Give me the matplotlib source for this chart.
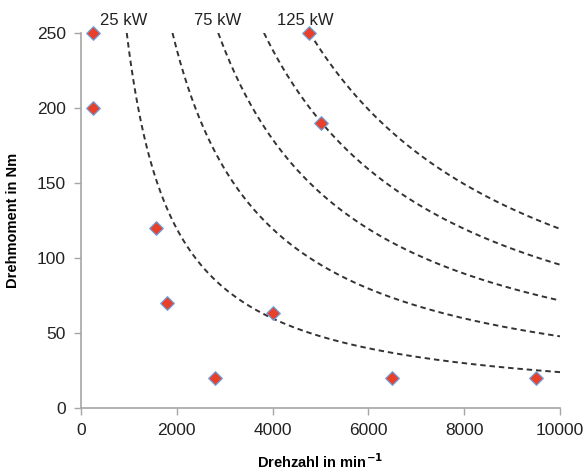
import numpy as np
import matplotlib
matplotlib.use("Agg")
import matplotlib.pyplot as plt

# measured operating points
drehzahl = [250, 250, 1570, 1800, 2800, 4000, 4750, 5000, 6500, 9500]
drehmoment = [250, 200, 120, 70, 20, 63, 250, 190, 20, 20]

# constant power curves (kW)
leistungen = [25, 50, 75, 100, 125]
beschriftet = {25: "25 kW", 75: "75 kW", 125: "125 kW"}
label_x = {25: 900, 75: 2860, 125: 4680}

plt.rcParams['font.family'] = ['Liberation Sans', 'DejaVu Sans']

fig = plt.figure(figsize=(5.87, 4.70), dpi=100)
ax = fig.add_axes([0.138, 0.132, 0.816, 0.798])

t_max = 250
for p in leistungen:
    n_start = p * 60000 / (2 * np.pi) / t_max
    n = np.linspace(n_start, 10000, 200)
    t = p * 60000 / (2 * np.pi) / n
    ax.plot(n, t, linestyle=(0, (2.8, 2.0)), color='#333333', linewidth=1.4, zorder=2)
    if p in beschriftet:
        ax.text(label_x[p], 253, beschriftet[p], ha='center', va='bottom',
                fontsize=12, color='#222222', clip_on=False)

ax.scatter(drehzahl, drehmoment, marker='D', s=48, color='#E8402A',
           edgecolor='#6F9FD8', linewidth=0.9, zorder=3, clip_on=False)

ax.set_xlim(0, 10000)
ax.set_ylim(0, 250)
ax.set_xticks(range(0, 10001, 2000))
ax.set_yticks(range(0, 251, 50))

for side in ['top', 'right']:
    ax.spines[side].set_visible(False)
for side in ['left', 'bottom']:
    ax.spines[side].set_color('#A6A6A6')
    ax.spines[side].set_linewidth(1.2)
ax.tick_params(axis='both', direction='out', length=5, width=1.0,
               color='#A6A6A6', labelsize=12.5, labelcolor='#222222', pad=6)

ax.set_xlabel('Drehzahl in min$^{\\mathbf{-1}}$', fontsize=10.5, fontweight='bold', labelpad=10)
ax.set_ylabel('Drehmoment in Nm', fontsize=10.5, fontweight='bold', labelpad=12)

fig.savefig('out.png', dpi=100)
